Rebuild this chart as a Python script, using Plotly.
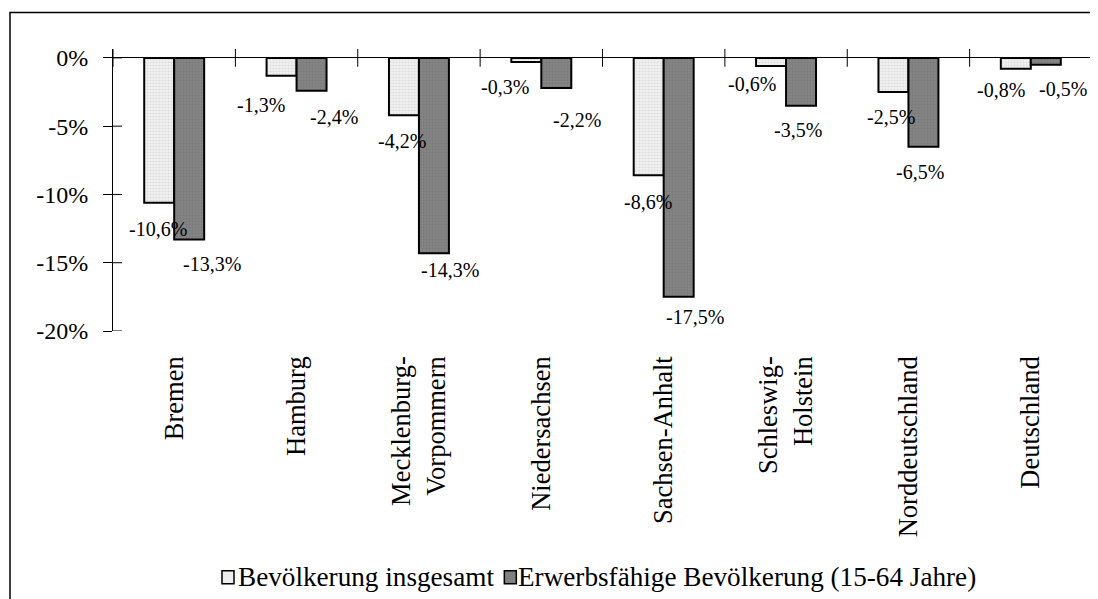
import plotly.graph_objects as go

categories = ["Bremen", "Hamburg", "Mecklenburg-<br>Vorpommern", "Niedersachsen",
              "Sachsen-Anhalt", "Schleswig-<br>Holstein", "Norddeutschland", "Deutschland"]
series_names = ["Bevölkerung insgesamt", "Erwerbsfähige Bevölkerung (15-64 Jahre)"]
bev_gesamt = [-10.6, -1.3, -4.2, -0.3, -8.6, -0.6, -2.5, -0.8]
bev_erwerb = [-13.3, -2.4, -14.3, -2.2, -17.5, -3.5, -6.5, -0.5]
y_tickvals = [0, -5, -10, -15, -20]
y_ticktext = ["0%", "-5%", "-10%", "-15%", "-20%"]

# label placement (pixels, style only)
light_dx = [-16, -36, -17, -36, -16, -34, -17, -30]
light_dy = [26, 29, 26, 25, 27, 18, 25, 21]
dark_dx = [38, 37, 31, 36, 31, 12, 12, 32]
dark_dy = [24, 26, 17, 32, 20, 24, 25, 24]

FONT = "Liberation Serif, Times New Roman, serif"
OFF = 8  # page body margin
W, H = 1098 - OFF, 599 - OFF
ML, MT = 113 - OFF, 48.6 - OFF
PW, PH = 979, 282.9
MR = W - ML - PW
MB = H - MT - PH

LIGHT_FILL, DARK_FILL = "#eeeeee", "#808080"

x = list(range(len(categories)))

fig = go.Figure()
fig.add_trace(go.Bar(
    x=x, y=bev_gesamt, name=series_names[0],
    marker=dict(color=LIGHT_FILL, line=dict(color="black", width=2),
                pattern=dict(shape=".", fgcolor="#c8c8c8", bgcolor="#f2f2f2", size=3, solidity=0.4)),
))
fig.add_trace(go.Bar(
    x=x, y=bev_erwerb, name=series_names[1],
    marker=dict(color=DARK_FILL, line=dict(color="black", width=2),
                pattern=dict(shape=".", fgcolor="#6e6e6e", bgcolor="#858585", size=3, solidity=0.4)),
))

def fmt(v):
    return f"{v:.1f}%".replace(".", ",")

annotations = []
for vals, dxs, dys in ((bev_gesamt, light_dx, light_dy), (bev_erwerb, dark_dx, dark_dy)):
    for i, v in enumerate(vals):
        annotations.append(dict(x=i, y=v, xref="x", yref="y", text=fmt(v), showarrow=False,
                                xshift=dxs[i], yshift=-dys[i], xanchor="center", yanchor="middle",
                                font=dict(family=FONT, size=20, color="black")))

def py(page_y):
    return (MT + PH - (page_y - OFF)) / PH

def px(page_x):
    return (page_x - OFF - ML) / PW

shapes = []
for i in range(len(categories) + 1):
    shapes.append(dict(type="line", xref="x", yref="y", x0=i - 0.5, x1=i - 0.5,
                       y0=-0.65, y1=0.65, line=dict(color="black", width=1)))
for v in y_tickvals:
    shapes.append(dict(type="line", xref="x domain", yref="y", x0=0, x1=9 / PW,
                       y0=v, y1=v, line=dict(color="black", width=1)))
shapes.append(dict(type="rect", xref="paper", yref="paper",
                   x0=px(10), x1=px(1110), y0=py(610), y1=py(12),
                   line=dict(color="black", width=1.5), fillcolor="rgba(0,0,0,0)", layer="below"))

# custom legend (tight spacing like the original)
LEG_FONT = 27.2
LEG_Y = 578
box1_x = 222
text1_x = 236
text2_end = 978
text2_w = 16.9 * LEG_FONT
box2_x = text2_end - text2_w - 14
for bx, fill in ((box1_x, LIGHT_FILL), (box2_x, DARK_FILL)):
    shapes.append(dict(type="rect", xref="paper", yref="paper",
                       x0=px(bx), x1=px(bx + 12), y0=py(LEG_Y + 7), y1=py(LEG_Y - 6),
                       line=dict(color="black", width=1.5), fillcolor=fill))
annotations.append(dict(xref="paper", yref="paper", x=px(text1_x), y=py(LEG_Y), text=series_names[0],
                        showarrow=False, xanchor="left", yanchor="middle",
                        font=dict(family=FONT, size=LEG_FONT, color="black")))
annotations.append(dict(xref="paper", yref="paper", x=px(text2_end), y=py(LEG_Y), text=series_names[1],
                        showarrow=False, xanchor="right", yanchor="middle",
                        font=dict(family=FONT, size=LEG_FONT, color="black")))

fig.update_layout(
    width=W, height=H,
    margin=dict(l=ML, r=MR, t=MT, b=MB, pad=0),
    paper_bgcolor="white", plot_bgcolor="white",
    barmode="group", bargap=0.51, bargroupgap=0,
    font=dict(family=FONT, color="black"),
    showlegend=False,
    annotations=annotations,
    shapes=shapes,
)

fig.update_xaxes(
    range=[-0.5, len(categories) - 0.5], tickvals=x, ticktext=categories,
    tickangle=-90, ticks="", showline=False, showgrid=False, zeroline=False,
    tickfont=dict(family=FONT, size=26.5, color="black"), ticklabelstandoff=19,
)
fig.update_yaxes(
    range=[-20, 0.65], tickvals=y_tickvals, ticktext=y_ticktext,
    ticks="outside", ticklen=9, tickcolor="black", tickwidth=1,
    showline=True, linecolor="black", linewidth=1, showgrid=False,
    zeroline=True, zerolinecolor="black", zerolinewidth=1,
    tickfont=dict(family=FONT, size=24, color="black"), ticklabelstandoff=10,
)

fig.write_html("out.html")
